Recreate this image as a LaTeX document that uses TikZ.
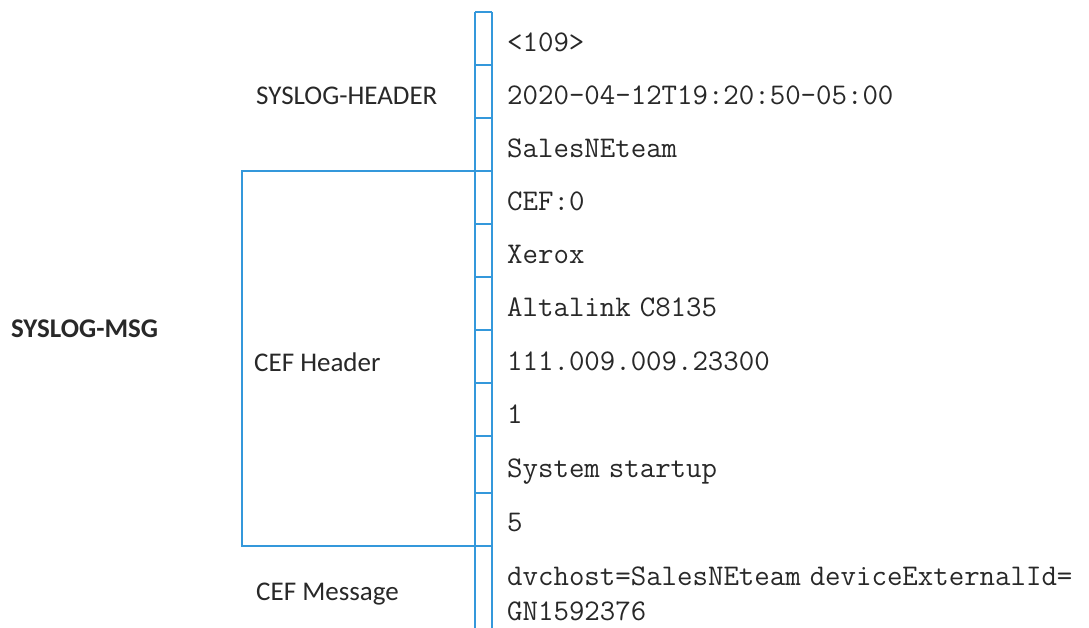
\documentclass[tikz,border=0pt]{standalone}
\usepackage{fontspec}
\setmainfont{Carlito}
\definecolor{xblue}{RGB}{52,152,219}
\definecolor{ink}{RGB}{40,40,40}
\newcommand\monotext{\ttfamily\fontsize{30bp}{32bp}\selectfont\fontdimen2\font=9bp\relax}
\begin{document}
\begin{tikzpicture}[x=1bp,y=-1bp,
  rule/.style={draw=xblue,line width=1.3bp},
  lbl/.style={anchor=base west,inner sep=0pt,font=\fontsize{27bp}{30bp}\selectfont,text=ink},
  lblbold/.style={lbl,font=\fontsize{27bp}{30bp}\selectfont\bfseries},
  val/.style={anchor=base west,inner sep=0pt,font=\monotext,text=ink}]
\useasboundingbox (0,0) rectangle (1089,628);
% column of cells
\draw[rule] (475,12) -- (475,628);
\draw[rule] (492,12) -- (492,628);
\foreach \yy in {12,65,118,171,224,277,330,383,436,493,546}
  \draw[rule] (475,\yy) -- (492,\yy);
% CEF header bracket box
\draw[rule] (242,171) rectangle (475,546);
% labels
\node[lblbold] (msg) at (11,337) {SYSLOG-MSG};
\node[lbl] (sh) at (256,105) {SYSLOG-HEADER};
\node[lbl] (ch) at (254,371) {CEF Header};
\node[lbl] (cm) at (256,600) {CEF Message};
% values
\node[val] (v1) at (507,52) {<109>};
\node[val] (v2) at (507,105) {2020-04-12T19:20:50-05:00};
\node[val] (v3) at (507,158) {SalesNEteam};
\node[val] (v4) at (507,211) {CEF:0};
\node[val] (v5) at (507,264) {Xerox};
\node[val] (v6) at (507,317) {Altalink C8135};
\node[val] (v7) at (507,370) {111.009.009.23300};
\node[val] (v8) at (507,423) {1};
\node[val] (v9) at (507,477) {System startup};
\node[val] (v10) at (507,531) {5};
\node[val] (v11) at (507,585) {dvchost=SalesNEteam deviceExternalId=};
\node[val] (v12) at (507,620) {GN1592376};
\end{tikzpicture}
\end{document}
